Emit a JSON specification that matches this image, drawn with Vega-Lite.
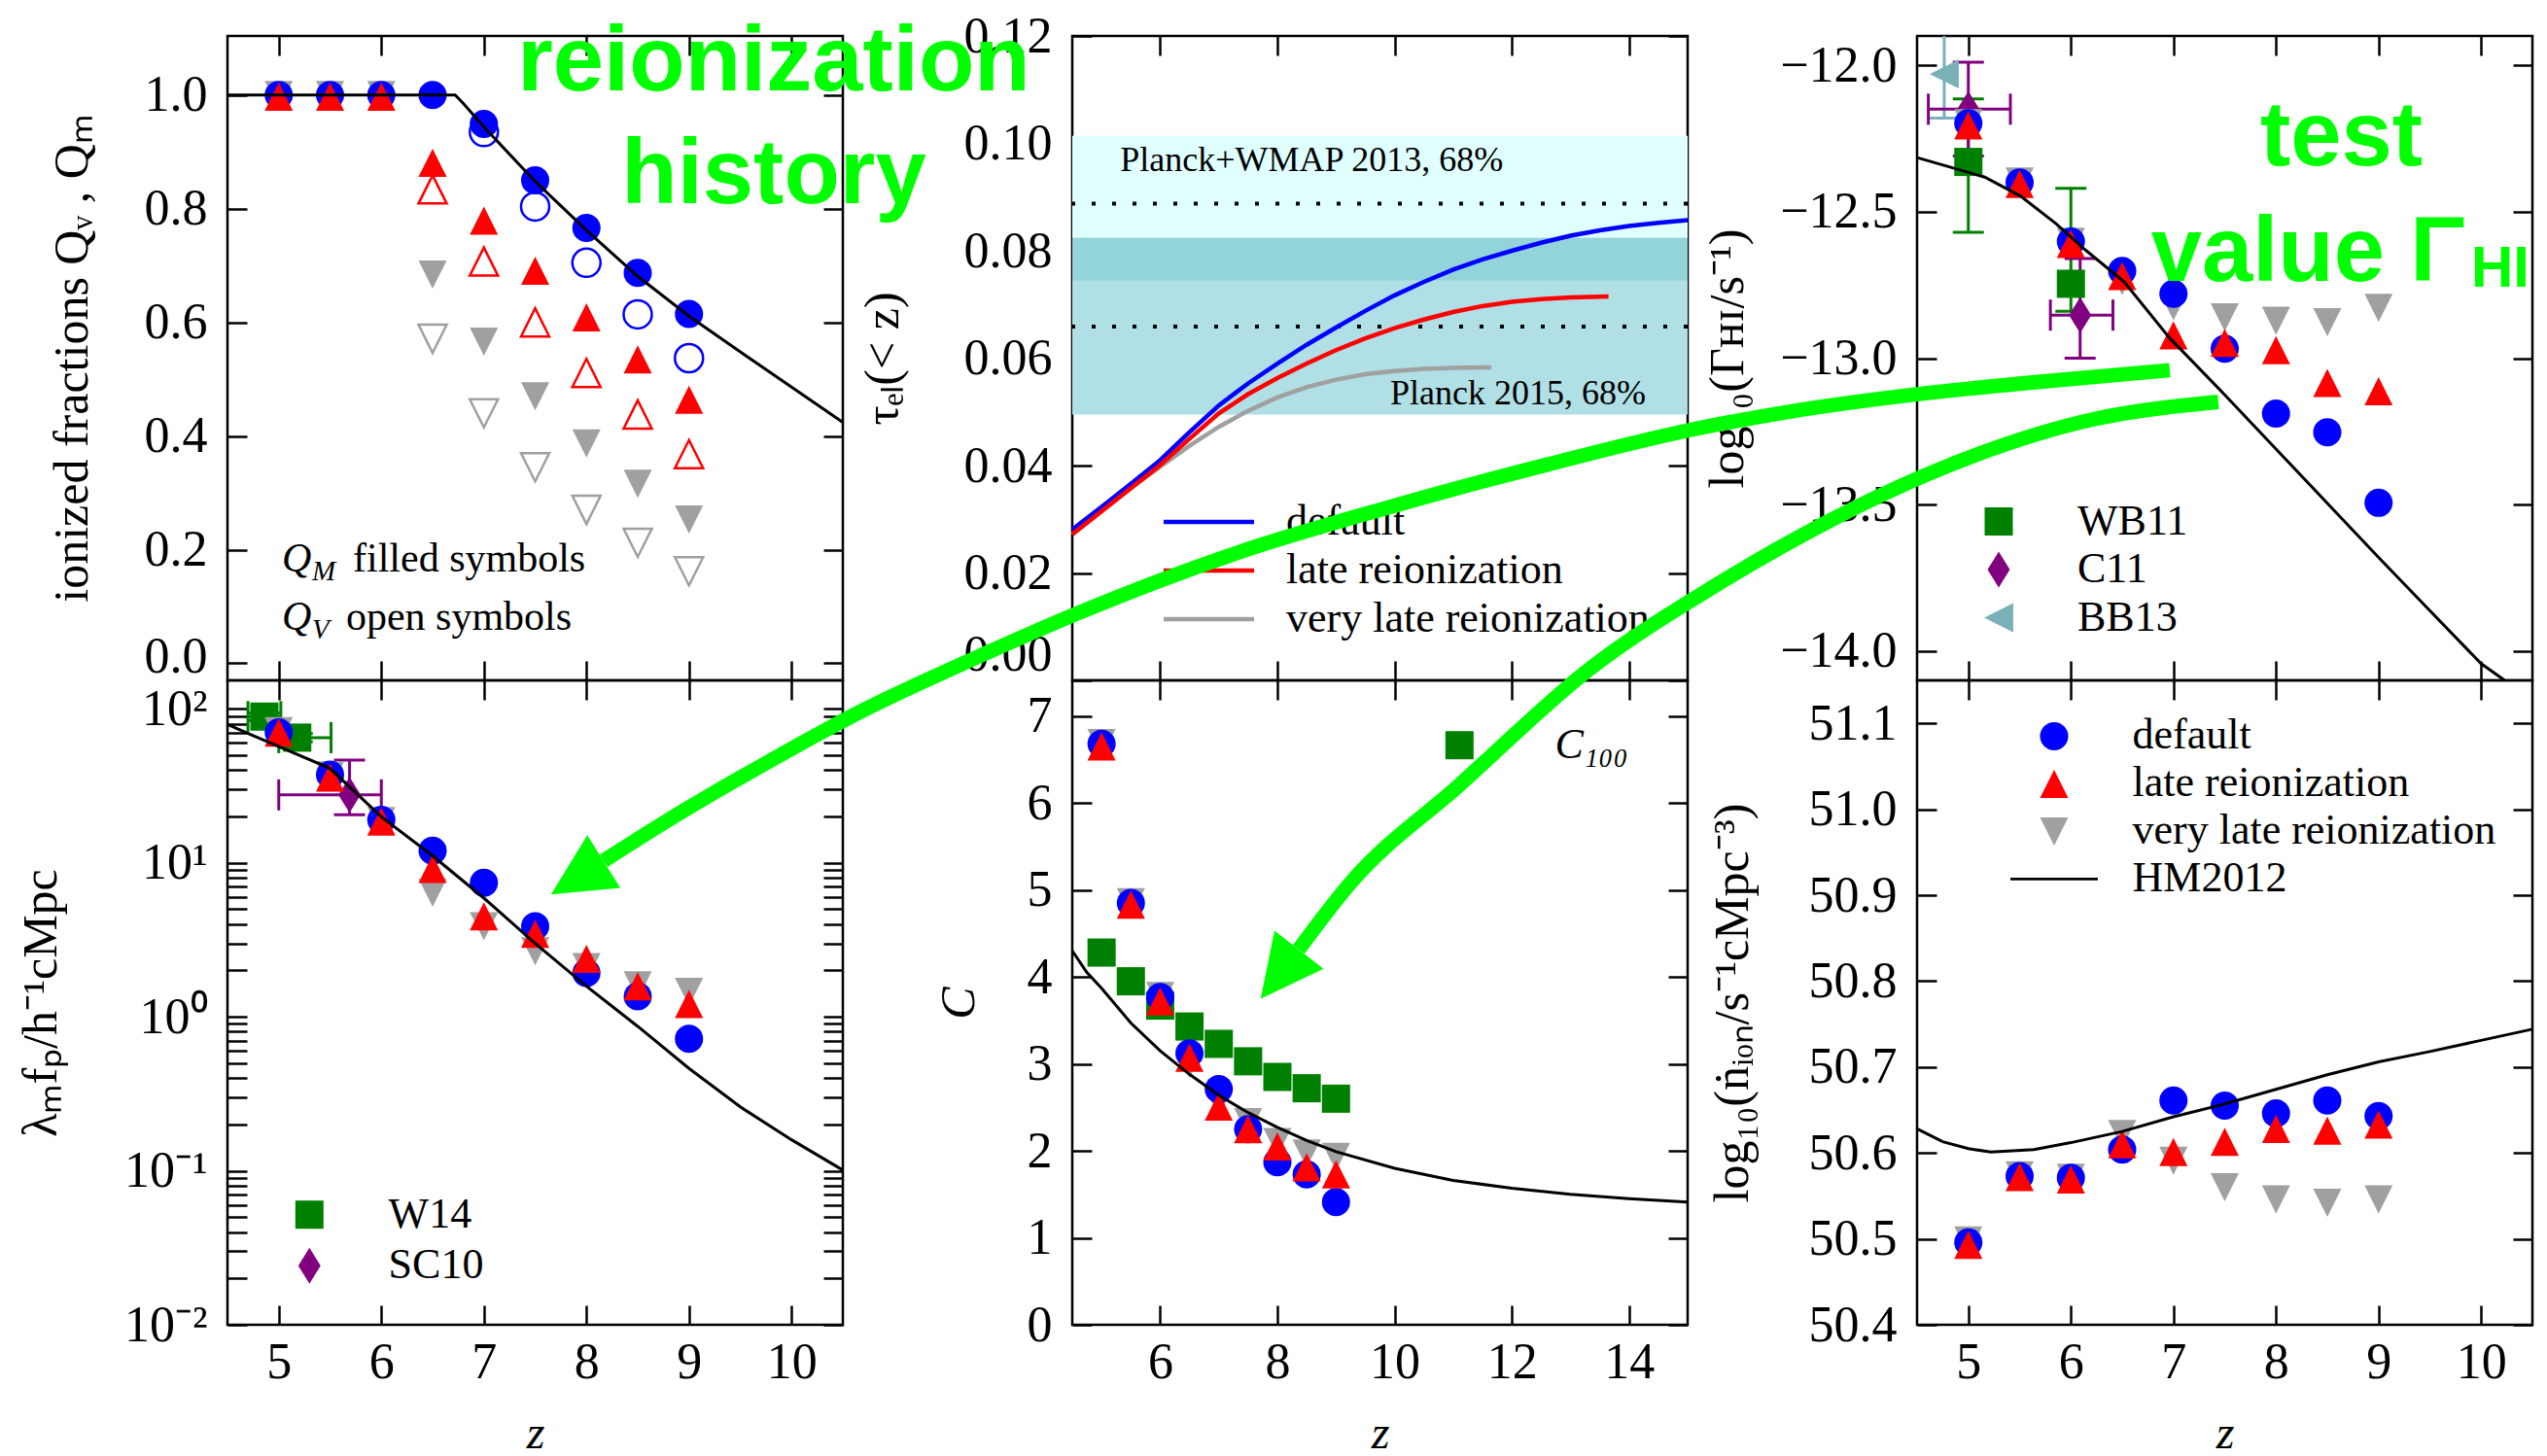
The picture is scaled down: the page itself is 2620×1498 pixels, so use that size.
{
"$schema": "https://vega.github.io/schema/vega-lite/v6.json",
"background": "white",
"padding": {"left": 16, "top": 9, "right": 5, "bottom": 0},
"columns": 3,
"spacing": {"row": 0, "column": 236},
"bounds": "flush",
"resolve": {"scale": {"color": "independent", "shape": "independent"}, "legend": {"color": "independent", "shape": "independent"}},
"config": {
  "view": {"stroke": "#000000", "strokeWidth": 2.5},
  "axis": {"domain": false, "grid": false, "ticks": true, "tickSize": -20, "tickWidth": 2.5, "tickColor": "#000000", "labelFont": "Liberation Serif", "labelFontSize": 52, "labelColor": "#000000", "labelPadding": 41, "labelFlush": false, "labelOverlap": false, "labelBound": false, "titleFont": "Liberation Serif", "titleFontSize": 50, "titleFontWeight": "normal", "titleColor": "#000000", "titlePadding": 30},
  "axisX": {"labelPadding": 33, "titlePadding": 24, "titleFontSize": 48},
  "axisY": {"titlePadding": 45},
  "legend": {"labelFont": "Liberation Serif", "labelFontSize": 44, "labelColor": "#000000", "labelLimit": 1000, "padding": 0}
},
"datasets": {
  "QM": [
    {"z":5,"Q":1.0,"model":"very late reionization"},{"z":5.5,"Q":1.0,"model":"very late reionization"},{"z":6,"Q":1.0,"model":"very late reionization"},{"z":6.5,"Q":0.684,"model":"very late reionization"},{"z":7,"Q":0.566,"model":"very late reionization"},{"z":7.5,"Q":0.470,"model":"very late reionization"},{"z":8,"Q":0.387,"model":"very late reionization"},{"z":8.5,"Q":0.316,"model":"very late reionization"},{"z":9,"Q":0.253,"model":"very late reionization"},
    {"z":5,"Q":1.0,"model":"default"},{"z":5.5,"Q":1.0,"model":"default"},{"z":6,"Q":1.0,"model":"default"},{"z":6.5,"Q":1.0,"model":"default"},{"z":7,"Q":0.949,"model":"default"},{"z":7.5,"Q":0.850,"model":"default"},{"z":8,"Q":0.766,"model":"default"},{"z":8.5,"Q":0.687,"model":"default"},{"z":9,"Q":0.615,"model":"default"},
    {"z":5,"Q":0.997,"model":"late reionization"},{"z":5.5,"Q":0.997,"model":"late reionization"},{"z":6,"Q":0.997,"model":"late reionization"},{"z":6.5,"Q":0.881,"model":"late reionization"},{"z":7,"Q":0.779,"model":"late reionization"},{"z":7.5,"Q":0.691,"model":"late reionization"},{"z":8,"Q":0.609,"model":"late reionization"},{"z":8.5,"Q":0.535,"model":"late reionization"},{"z":9,"Q":0.464,"model":"late reionization"}
  ],
  "QV": [
    {"z":6.5,"Q":0.571,"model":"very late reionization"},{"z":7,"Q":0.440,"model":"very late reionization"},{"z":7.5,"Q":0.345,"model":"very late reionization"},{"z":8,"Q":0.270,"model":"very late reionization"},{"z":8.5,"Q":0.212,"model":"very late reionization"},{"z":9,"Q":0.162,"model":"very late reionization"},
    {"z":7,"Q":0.935,"model":"default"},{"z":7.5,"Q":0.804,"model":"default"},{"z":8,"Q":0.705,"model":"default"},{"z":8.5,"Q":0.614,"model":"default"},{"z":9,"Q":0.537,"model":"default"},
    {"z":6.5,"Q":0.834,"model":"late reionization"},{"z":7,"Q":0.707,"model":"late reionization"},{"z":7.5,"Q":0.600,"model":"late reionization"},{"z":8,"Q":0.511,"model":"late reionization"},{"z":8.5,"Q":0.438,"model":"late reionization"},{"z":9,"Q":0.368,"model":"late reionization"}
  ],
  "Qline": [{"z":4.5,"Q":1.0},{"z":6.72,"Q":1.0},{"z":6.8,"Q":0.985},{"z":7,"Q":0.944},{"z":7.5,"Q":0.848},{"z":8,"Q":0.762},{"z":8.5,"Q":0.681},{"z":9,"Q":0.611},{"z":9.5,"Q":0.548},{"z":10,"Q":0.486},{"z":10.5,"Q":0.424}],
  "qtext_q": [{"z":5.031,"Q":0.161,"t":"Q"},{"z":5.031,"Q":0.059,"t":"Q"}],
  "qtext_sub": [{"z":5.325,"Q":0.161,"t":"M"},{"z":5.325,"Q":0.059,"t":"V"}],
  "qtext_rest": [{"z":5.723,"Q":0.161,"t":"filled symbols"},{"z":5.656,"Q":0.059,"t":"open symbols"}],
  "bands": [{"band":"Planck+WMAP 2013","lo":0.0745,"hi":0.1014},{"band":"Planck 2015","lo":0.0495,"hi":0.0824},{"band":"overlap","lo":0.0745,"hi":0.0824}],
  "tauref": [{"tau":0.0888},{"tau":0.0659}],
  "tau": [
    {"z":4.5,"tau":0.0272,"model":"very late reionization"},{"z":5,"tau":0.0315,"model":"very late reionization"},{"z":5.5,"tau":0.0358,"model":"very late reionization"},{"z":6,"tau":0.0398,"model":"very late reionization"},{"z":6.5,"tau":0.0437,"model":"very late reionization"},{"z":7,"tau":0.0472,"model":"very late reionization"},{"z":7.5,"tau":0.0502,"model":"very late reionization"},{"z":8,"tau":0.0527,"model":"very late reionization"},{"z":8.5,"tau":0.0546,"model":"very late reionization"},{"z":9,"tau":0.0560,"model":"very late reionization"},{"z":9.5,"tau":0.0570,"model":"very late reionization"},{"z":10,"tau":0.0576,"model":"very late reionization"},{"z":10.5,"tau":0.0580,"model":"very late reionization"},{"z":11,"tau":0.0582,"model":"very late reionization"},{"z":11.65,"tau":0.0583,"model":"very late reionization"},
    {"z":4.5,"tau":0.0281,"model":"default"},{"z":5,"tau":0.0323,"model":"default"},{"z":5.5,"tau":0.0366,"model":"default"},{"z":6,"tau":0.0410,"model":"default"},{"z":6.5,"tau":0.0462,"model":"default"},{"z":7,"tau":0.0512,"model":"default"},{"z":7.5,"tau":0.0553,"model":"default"},{"z":8,"tau":0.0590,"model":"default"},{"z":8.5,"tau":0.0625,"model":"default"},{"z":9,"tau":0.0657,"model":"default"},{"z":9.5,"tau":0.0688,"model":"default"},{"z":10,"tau":0.0717,"model":"default"},{"z":10.5,"tau":0.0742,"model":"default"},{"z":11,"tau":0.0765,"model":"default"},{"z":11.5,"tau":0.0784,"model":"default"},{"z":12,"tau":0.0800,"model":"default"},{"z":12.5,"tau":0.0815,"model":"default"},{"z":13,"tau":0.0828,"model":"default"},{"z":13.5,"tau":0.0838,"model":"default"},{"z":14,"tau":0.0846,"model":"default"},{"z":14.5,"tau":0.0852,"model":"default"},{"z":15,"tau":0.0857,"model":"default"},
    {"z":4.5,"tau":0.0272,"model":"late reionization"},{"z":5,"tau":0.0315,"model":"late reionization"},{"z":5.5,"tau":0.0358,"model":"late reionization"},{"z":6,"tau":0.0401,"model":"late reionization"},{"z":6.5,"tau":0.0450,"model":"late reionization"},{"z":7,"tau":0.0497,"model":"late reionization"},{"z":7.5,"tau":0.0533,"model":"late reionization"},{"z":8,"tau":0.0563,"model":"late reionization"},{"z":8.5,"tau":0.0590,"model":"late reionization"},{"z":9,"tau":0.0615,"model":"late reionization"},{"z":9.5,"tau":0.0637,"model":"late reionization"},{"z":10,"tau":0.0656,"model":"late reionization"},{"z":10.5,"tau":0.0672,"model":"late reionization"},{"z":11,"tau":0.0686,"model":"late reionization"},{"z":11.5,"tau":0.0697,"model":"late reionization"},{"z":12,"tau":0.0705,"model":"late reionization"},{"z":12.5,"tau":0.0710,"model":"late reionization"},{"z":13,"tau":0.0713,"model":"late reionization"},{"z":13.65,"tau":0.0715,"model":"late reionization"}
  ],
  "tau_text": [{"z":5.318,"tau":0.0948,"t":"Planck+WMAP 2013, 68%"},{"z":9.924,"tau":0.0514,"t":"Planck 2015, 68%"}],
  "gamma": [
    {"z":5,"g":-12.198,"model":"very late reionization"},{"z":5.5,"g":-12.397,"model":"very late reionization"},{"z":6,"g":-12.603,"model":"very late reionization"},{"z":6.5,"g":-12.737,"model":"very late reionization"},{"z":7,"g":-12.823,"model":"very late reionization"},{"z":7.5,"g":-12.861,"model":"very late reionization"},{"z":8,"g":-12.872,"model":"very late reionization"},{"z":8.5,"g":-12.877,"model":"very late reionization"},{"z":9,"g":-12.828,"model":"very late reionization"},
    {"z":5,"g":-12.198,"model":"default"},{"z":5.5,"g":-12.40,"model":"default"},{"z":6,"g":-12.602,"model":"default"},{"z":6.5,"g":-12.702,"model":"default"},{"z":7,"g":-12.78,"model":"default"},{"z":7.5,"g":-12.968,"model":"default"},{"z":8,"g":-13.189,"model":"default"},{"z":8.5,"g":-13.253,"model":"default"},{"z":9,"g":-13.494,"model":"default"},
    {"z":5,"g":-12.205,"model":"late reionization"},{"z":5.5,"g":-12.405,"model":"late reionization"},{"z":6,"g":-12.61,"model":"late reionization"},{"z":6.5,"g":-12.72,"model":"late reionization"},{"z":7,"g":-12.922,"model":"late reionization"},{"z":7.5,"g":-12.948,"model":"late reionization"},{"z":8,"g":-12.973,"model":"late reionization"},{"z":8.5,"g":-13.085,"model":"late reionization"},{"z":9,"g":-13.113,"model":"late reionization"}
  ],
  "gamma_obs": [
    {"src":"WB11","z":5.0,"g":-12.33,"lo":-12.57,"hi":-12.115,"zlo":null,"zhi":null},
    {"src":"WB11","z":6.0,"g":-12.746,"lo":-12.84,"hi":-12.42,"zlo":null,"zhi":null},
    {"src":"C11","z":5.0,"g":-12.15,"lo":-12.31,"hi":-11.99,"zlo":4.61,"zhi":5.41},
    {"src":"C11","z":6.09,"g":-12.853,"lo":-13.0,"hi":-12.66,"zlo":5.80,"zhi":6.41},
    {"src":"BB13","z":4.765,"g":-12.03,"lo":-12.18,"hi":-11.8,"zlo":null,"zhi":null}
  ],
  "hm_gamma": [{"z":4.5,"g":-12.315},{"z":5.16,"g":-12.382},{"z":5.51,"g":-12.447},{"z":5.855,"g":-12.541},{"z":6.14,"g":-12.63},{"z":6.52,"g":-12.74},{"z":6.96,"g":-12.93},{"z":7.5,"g":-13.125},{"z":8,"g":-13.31},{"z":8.5,"g":-13.495},{"z":9,"g":-13.68},{"z":9.5,"g":-13.862},{"z":10,"g":-14.043},{"z":10.23,"g":-14.1}],
  "lmfp": [
    {"z":5,"l":71.6,"model":"very late reionization"},{"z":5.5,"l":36.9,"model":"very late reionization"},{"z":6,"l":18.7,"model":"very late reionization"},{"z":6.5,"l":6.4,"model":"very late reionization"},{"z":7,"l":3.87,"model":"very late reionization"},{"z":7.5,"l":2.66,"model":"very late reionization"},{"z":8,"l":2.1,"model":"very late reionization"},{"z":8.5,"l":1.6,"model":"very late reionization"},{"z":9,"l":1.45,"model":"very late reionization"},
    {"z":5,"l":70.3,"model":"default"},{"z":5.5,"l":37.4,"model":"default"},{"z":6,"l":19.0,"model":"default"},{"z":6.5,"l":12.0,"model":"default"},{"z":7,"l":7.41,"model":"default"},{"z":7.5,"l":3.87,"model":"default"},{"z":8,"l":1.93,"model":"default"},{"z":8.5,"l":1.36,"model":"default"},{"z":9,"l":0.719,"model":"default"},
    {"z":5,"l":70.0,"model":"late reionization"},{"z":5.5,"l":35.8,"model":"late reionization"},{"z":6,"l":18.5,"model":"late reionization"},{"z":6.5,"l":9.14,"model":"late reionization"},{"z":7,"l":4.50,"model":"late reionization"},{"z":7.5,"l":3.46,"model":"late reionization"},{"z":8,"l":2.38,"model":"late reionization"},{"z":8.5,"l":1.58,"model":"late reionization"},{"z":9,"l":1.21,"model":"late reionization"}
  ],
  "lmfp_obs": [
    {"src":"W14","z":4.86,"l":89,"lo":84,"hi":94,"zlo":4.70,"zhi":5.02},
    {"src":"W14","z":5.18,"l":65,"lo":61,"hi":69,"zlo":5.0,"zhi":5.51},
    {"src":"SC10","z":5.69,"l":27.6,"lo":20.5,"hi":46.4,"zlo":5.0,"zhi":6.0}
  ],
  "hm_lmfp": [{"z":4.5,"l":79},{"z":5.5,"l":41},{"z":6,"l":19.9},{"z":6.5,"l":11.1},{"z":7,"l":5.9},{"z":7.5,"l":3.0},{"z":8,"l":1.58},{"z":8.5,"l":0.867},{"z":9,"l":0.462},{"z":9.5,"l":0.26},{"z":10,"l":0.159},{"z":10.5,"l":0.101}],
  "c100": [{"z":5,"C":4.28,"series":"C100"},{"z":5.5,"C":3.95,"series":"C100"},{"z":6,"C":3.67,"series":"C100"},{"z":6.5,"C":3.43,"series":"C100"},{"z":7,"C":3.23,"series":"C100"},{"z":7.5,"C":3.03,"series":"C100"},{"z":8,"C":2.85,"series":"C100"},{"z":8.5,"C":2.72,"series":"C100"},{"z":9,"C":2.60,"series":"C100"}],
  "clump": [
    {"z":5,"C":6.69,"model":"very late reionization"},{"z":5.5,"C":4.86,"model":"very late reionization"},{"z":6,"C":3.78,"model":"very late reionization"},{"z":6.5,"C":3.0,"model":"very late reionization"},{"z":7,"C":2.56,"model":"very late reionization"},{"z":7.5,"C":2.33,"model":"very late reionization"},{"z":8,"C":2.10,"model":"very late reionization"},{"z":8.5,"C":1.97,"model":"very late reionization"},{"z":9,"C":1.93,"model":"very late reionization"},
    {"z":5,"C":6.68,"model":"default"},{"z":5.5,"C":4.85,"model":"default"},{"z":6,"C":3.77,"model":"default"},{"z":6.5,"C":3.12,"model":"default"},{"z":7,"C":2.71,"model":"default"},{"z":7.5,"C":2.25,"model":"default"},{"z":8,"C":1.87,"model":"default"},{"z":8.5,"C":1.73,"model":"default"},{"z":9,"C":1.41,"model":"default"},
    {"z":5,"C":6.65,"model":"late reionization"},{"z":5.5,"C":4.83,"model":"late reionization"},{"z":6,"C":3.72,"model":"late reionization"},{"z":6.5,"C":3.07,"model":"late reionization"},{"z":7,"C":2.51,"model":"late reionization"},{"z":7.5,"C":2.25,"model":"late reionization"},{"z":8,"C":2.05,"model":"late reionization"},{"z":8.5,"C":1.81,"model":"late reionization"},{"z":9,"C":1.73,"model":"late reionization"}
  ],
  "hm_clump": [{"z":4.5,"C":4.30},{"z":4.75,"C":4.05},{"z":5,"C":3.87},{"z":5.5,"C":3.47},{"z":6,"C":3.15},{"z":6.5,"C":2.88},{"z":7,"C":2.64},{"z":7.5,"C":2.44},{"z":8,"C":2.27},{"z":8.5,"C":2.12},{"z":9,"C":1.99},{"z":10,"C":1.80},{"z":11,"C":1.66},{"z":12,"C":1.57},{"z":13,"C":1.50},{"z":14,"C":1.45},{"z":15,"C":1.41}],
  "nion": [
    {"z":5,"n":50.498,"model":"very late reionization"},{"z":5.5,"n":50.574,"model":"very late reionization"},{"z":6,"n":50.571,"model":"very late reionization"},{"z":6.5,"n":50.622,"model":"very late reionization"},{"z":7,"n":50.591,"model":"very late reionization"},{"z":7.5,"n":50.560,"model":"very late reionization"},{"z":8,"n":50.546,"model":"very late reionization"},{"z":8.5,"n":50.542,"model":"very late reionization"},{"z":9,"n":50.546,"model":"very late reionization"},
    {"z":5,"n":50.496,"model":"default"},{"z":5.5,"n":50.573,"model":"default"},{"z":6,"n":50.571,"model":"default"},{"z":6.5,"n":50.604,"model":"default"},{"z":7,"n":50.661,"model":"default"},{"z":7.5,"n":50.655,"model":"default"},{"z":8,"n":50.646,"model":"default"},{"z":8.5,"n":50.661,"model":"default"},{"z":9,"n":50.643,"model":"default"},
    {"z":5,"n":50.493,"model":"late reionization"},{"z":5.5,"n":50.572,"model":"late reionization"},{"z":6,"n":50.569,"model":"late reionization"},{"z":6.5,"n":50.61,"model":"late reionization"},{"z":7,"n":50.601,"model":"late reionization"},{"z":7.5,"n":50.613,"model":"late reionization"},{"z":8,"n":50.628,"model":"late reionization"},{"z":8.5,"n":50.626,"model":"late reionization"},{"z":9,"n":50.633,"model":"late reionization"}
  ],
  "hm_nion": [{"z":4.5,"n":50.628},{"z":4.75,"n":50.613},{"z":5,"n":50.605},{"z":5.22,"n":50.601},{"z":5.64,"n":50.604},{"z":6,"n":50.612},{"z":6.5,"n":50.625},{"z":7,"n":50.642},{"z":7.5,"n":50.657},{"z":8,"n":50.674},{"z":8.5,"n":50.691},{"z":9,"n":50.706},{"z":9.5,"n":50.718},{"z":10,"n":50.731},{"z":10.5,"n":50.744}],
  "arrows": [
    {"arrow":"upper","x":6.964,"y":51.511},{"arrow":"upper","x":5.647,"y":51.497},{"arrow":"upper","x":4.5,"y":51.483},{"arrow":"upper","x":3.268,"y":51.463},{"arrow":"upper","x":2.272,"y":51.441},{"arrow":"upper","x":0.889,"y":51.401},{"arrow":"upper","x":-0.694,"y":51.350},{"arrow":"upper","x":-2.116,"y":51.299},{"arrow":"upper","x":-3.728,"y":51.226},{"arrow":"upper","x":-4.647,"y":51.178},{"arrow":"upper","x":-5.813,"y":51.113},{"arrow":"upper","x":-6.704,"y":51.055},{"arrow":"upper","x":-7.709,"y":50.985},{"arrow":"upper","x":-8.306,"y":50.940},
    {"arrow":"lower","x":7.438,"y":51.474},{"arrow":"lower","x":6.225,"y":51.454},{"arrow":"lower","x":4.604,"y":51.390},{"arrow":"lower","x":3.571,"y":51.331},{"arrow":"lower","x":2.528,"y":51.260},{"arrow":"lower","x":1.315,"y":51.164},{"arrow":"lower","x":0.036,"y":51.028},{"arrow":"lower","x":-1.026,"y":50.914},{"arrow":"lower","x":-1.528,"y":50.837}
  ],
  "arrowheads": [{"arrow":"upper","x":-8.562,"y":50.920},{"arrow":"lower","x":-1.713,"y":50.808}],
  "annot_big": [{"t":"reionization","x":-6.647,"y":51.837},{"t":"history","x":-6.647,"y":51.705},{"t":"test","x":8.637,"y":51.749}],
  "annot_value": [{"t":"value Γ","x":9.843,"y":51.615}],
  "annot_sub": [{"t":"HI","x":9.903,"y":51.608}]
},
"concat": [
  {
    "width": 633, "height": 663,
    "resolve": {"scale": {"color": "independent", "shape": "independent"}},
    "layer": [
      {"data": {"name": "QV"}, "mark": {"type": "point", "filled": false, "opacity": 1, "size": 841, "strokeWidth": 2.5},
       "encoding": {
         "x": {"field": "z", "type": "quantitative", "scale": {"domain": [4.5, 10.5], "nice": false, "zero": false}, "axis": {"orient": "bottom", "values": [5,6,7,8,9,10], "labels": false, "title": null}},
         "y": {"field": "Q", "type": "quantitative", "scale": {"domain": [-0.03, 1.104], "nice": false, "zero": false}, "axis": {"orient": "left", "values": [0,0.2,0.4,0.6,0.8,1], "format": ".1f", "labelOffset": {"condition": {"test": "datum.value == 0", "value": -7}, "value": 0}, "title": "ionized fractions Qᵥ , Qₘ", "titlePadding": 49}},
         "color": {"field": "model", "type": "nominal", "scale": {"domain": ["default","late reionization","very late reionization"], "range": ["#0000ff","#ff0000","#a0a0a0"]}, "legend": null},
         "shape": {"field": "model", "type": "nominal", "scale": {"domain": ["default","late reionization","very late reionization"], "range": ["circle","M0,-1L-1,1L1,1Z","M0,1L-1,-1L1,-1Z"]}, "legend": null}
       }},
      {"data": {"name": "QM"}, "mark": {"type": "point", "filled": true, "opacity": 1, "size": 841, "strokeWidth": 0},
       "encoding": {
         "x": {"field": "z", "type": "quantitative", "scale": {"domain": [4.5, 10.5], "nice": false, "zero": false}, "axis": {"orient": "top", "values": [5,6,7,8,9,10], "labels": false, "title": null}},
         "y": {"field": "Q", "type": "quantitative", "scale": {"domain": [-0.03, 1.104], "nice": false, "zero": false}, "axis": {"orient": "right", "values": [0,0.2,0.4,0.6,0.8,1], "labels": false, "title": null}},
         "color": {"field": "model", "type": "nominal", "scale": {"domain": ["default","late reionization","very late reionization"], "range": ["#0000ff","#ff0000","#a0a0a0"]}, "legend": null},
         "shape": {"field": "model", "type": "nominal", "scale": {"domain": ["default","late reionization","very late reionization"], "range": ["circle","M0,-1L-1,1L1,1Z","M0,1L-1,-1L1,-1Z"]}, "legend": null}
       }},
      {"data": {"name": "Qline"}, "mark": {"type": "line", "color": "#000000", "strokeWidth": 3},
       "encoding": {
         "x": {"field": "z", "type": "quantitative", "scale": {"domain": [4.5, 10.5], "nice": false, "zero": false}, "axis": null},
         "y": {"field": "Q", "type": "quantitative", "scale": {"domain": [-0.03, 1.104], "nice": false, "zero": false}, "axis": null}
       }},
      {"data": {"name": "qtext_q"}, "mark": {"type": "text", "font": "Liberation Serif", "fontStyle": "italic", "fontSize": 42, "align": "left", "baseline": "alphabetic", "color": "#000000"},
       "encoding": {
         "x": {"field": "z", "type": "quantitative", "scale": {"domain": [4.5, 10.5], "nice": false, "zero": false}, "axis": null},
         "y": {"field": "Q", "type": "quantitative", "scale": {"domain": [-0.03, 1.104], "nice": false, "zero": false}, "axis": null},
         "text": {"field": "t", "type": "nominal"}
       }},
      {"data": {"name": "qtext_sub"}, "mark": {"type": "text", "font": "Liberation Serif", "fontStyle": "italic", "fontSize": 29, "dy": 9, "align": "left", "baseline": "alphabetic", "color": "#000000"},
       "encoding": {
         "x": {"field": "z", "type": "quantitative", "scale": {"domain": [4.5, 10.5], "nice": false, "zero": false}, "axis": null},
         "y": {"field": "Q", "type": "quantitative", "scale": {"domain": [-0.03, 1.104], "nice": false, "zero": false}, "axis": null},
         "text": {"field": "t", "type": "nominal"}
       }},
      {"data": {"name": "qtext_rest"}, "mark": {"type": "text", "font": "Liberation Serif", "fontSize": 42, "align": "left", "baseline": "alphabetic", "color": "#000000"},
       "encoding": {
         "x": {"field": "z", "type": "quantitative", "scale": {"domain": [4.5, 10.5], "nice": false, "zero": false}, "axis": null},
         "y": {"field": "Q", "type": "quantitative", "scale": {"domain": [-0.03, 1.104], "nice": false, "zero": false}, "axis": null},
         "text": {"field": "t", "type": "nominal"}
       }}
    ]
  },
  {
    "width": 633, "height": 663,
    "resolve": {"scale": {"color": "independent", "shape": "independent"}},
    "layer": [
      {"data": {"name": "bands"}, "mark": {"type": "rect", "opacity": 1},
       "encoding": {
         "y": {"field": "lo", "type": "quantitative", "scale": {"domain": [0, 0.12], "nice": false, "zero": false}, "axis": null},
         "y2": {"field": "hi"},
         "color": {"field": "band", "type": "nominal", "scale": {"domain": ["Planck+WMAP 2013","Planck 2015","overlap"], "range": ["#e0ffff","#b0dfe5","#93d3da"]}, "legend": null}
       }},
      {"data": {"name": "tauref"}, "mark": {"type": "rule", "color": "#000000", "strokeWidth": 4, "strokeDash": [4, 17]},
       "encoding": {
         "y": {"field": "tau", "type": "quantitative", "scale": {"domain": [0, 0.12], "nice": false, "zero": false}, "axis": null}
       }},
      {"data": {"name": "tau"}, "mark": {"type": "line", "strokeWidth": 4.5},
       "encoding": {
         "x": {"field": "z", "type": "quantitative", "scale": {"domain": [4.5, 15], "nice": false, "zero": false}, "axis": {"orient": "bottom", "values": [6,8,10,12,14], "labels": false, "title": null}},
         "y": {"field": "tau", "type": "quantitative", "scale": {"domain": [0, 0.12], "nice": false, "zero": false}, "axis": {"orient": "left", "values": [0,0.02,0.04,0.06,0.08,0.1,0.12], "format": ".2f", "labelBaseline": {"condition": {"test": "datum.value == 0", "value": "bottom"}, "value": "middle"}, "title": "τₑₗ(< z)", "titlePadding": 58}},
         "color": {"field": "model", "type": "nominal", "scale": {"domain": ["default","late reionization","very late reionization"], "range": ["#0000ff","#ff0000","#a0a0a0"]},
                   "legend": {"orient": "none", "legendX": 118.5, "legendY": 478, "title": null, "symbolType": "M-4.65,0H4.65", "symbolSize": 400, "symbolStrokeWidth": 4.5, "labelOffset": 57.5, "rowPadding": 6, "labelFontSize": 44, "labelFont": "Liberation Serif", "labelLimit": 1000, "padding": 0}}
       }},
      {"data": {"name": "tau_text"}, "mark": {"type": "text", "font": "Liberation Serif", "fontSize": 36, "align": "left", "baseline": "alphabetic", "color": "#000000"},
       "encoding": {
         "x": {"field": "z", "type": "quantitative", "scale": {"domain": [4.5, 15], "nice": false, "zero": false}, "axis": {"orient": "top", "values": [6,8,10,12,14], "labels": false, "title": null}},
         "y": {"field": "tau", "type": "quantitative", "scale": {"domain": [0, 0.12], "nice": false, "zero": false}, "axis": {"orient": "right", "values": [0,0.02,0.04,0.06,0.08,0.1,0.12], "labels": false, "title": null}},
         "text": {"field": "t", "type": "nominal"}
       }}
    ]
  },
  {
    "width": 633, "height": 663,
    "resolve": {"scale": {"color": "independent", "shape": "independent"}},
    "layer": [
      {"data": {"name": "gamma_obs"}, "mark": {"type": "rule", "strokeWidth": 3, "clip": true},
       "encoding": {
         "x": {"field": "z", "type": "quantitative", "scale": {"domain": [4.5, 10.5], "nice": false, "zero": false}, "axis": {"orient": "bottom", "values": [5,6,7,8,9,10], "labels": false, "title": null}},
         "y": {"field": "lo", "type": "quantitative", "scale": {"domain": [-14.1, -11.9], "nice": false, "zero": false}, "axis": {"orient": "left", "values": [-14,-13.5,-13,-12.5,-12], "format": ".1f", "title": "log₁₀(Γʜɪ/s⁻¹)", "titlePadding": 28}},
         "y2": {"field": "hi"},
         "color": {"field": "src", "type": "nominal", "scale": {"domain": ["WB11","C11","BB13"], "range": ["#008000","#800080","#79b1b7"]}, "legend": null}
       }},
      {"data": {"name": "gamma_obs"}, "transform": [{"filter": "isValid(datum.zlo)"}], "mark": {"type": "rule", "strokeWidth": 3, "clip": true},
       "encoding": {
         "x": {"field": "zlo", "type": "quantitative", "scale": {"domain": [4.5, 10.5], "nice": false, "zero": false}, "axis": null},
         "x2": {"field": "zhi"},
         "y": {"field": "g", "type": "quantitative", "scale": {"domain": [-14.1, -11.9], "nice": false, "zero": false}, "axis": null},
         "color": {"field": "src", "type": "nominal", "scale": {"domain": ["WB11","C11","BB13"], "range": ["#008000","#800080","#79b1b7"]}, "legend": null}
       }},
      {"data": {"name": "gamma_obs"}, "transform": [{"fold": ["lo","hi"], "as": ["which","v"]}], "mark": {"type": "tick", "orient": "horizontal", "size": 32, "thickness": 3, "opacity": 1, "clip": true},
       "encoding": {
         "x": {"field": "z", "type": "quantitative", "scale": {"domain": [4.5, 10.5], "nice": false, "zero": false}, "axis": null},
         "y": {"field": "v", "type": "quantitative", "scale": {"domain": [-14.1, -11.9], "nice": false, "zero": false}, "axis": null},
         "color": {"field": "src", "type": "nominal", "scale": {"domain": ["WB11","C11","BB13"], "range": ["#008000","#800080","#79b1b7"]}, "legend": null}
       }},
      {"data": {"name": "gamma_obs"}, "transform": [{"filter": "isValid(datum.zlo)"}, {"fold": ["zlo","zhi"], "as": ["which","v"]}], "mark": {"type": "tick", "orient": "vertical", "size": 32, "thickness": 3, "opacity": 1, "clip": true},
       "encoding": {
         "x": {"field": "v", "type": "quantitative", "scale": {"domain": [4.5, 10.5], "nice": false, "zero": false}, "axis": null},
         "y": {"field": "g", "type": "quantitative", "scale": {"domain": [-14.1, -11.9], "nice": false, "zero": false}, "axis": null},
         "color": {"field": "src", "type": "nominal", "scale": {"domain": ["WB11","C11","BB13"], "range": ["#008000","#800080","#79b1b7"]}, "legend": null}
       }},
      {"data": {"name": "gamma_obs"}, "mark": {"type": "point", "filled": true, "opacity": 1, "size": 841, "strokeWidth": 0},
       "encoding": {
         "x": {"field": "z", "type": "quantitative", "scale": {"domain": [4.5, 10.5], "nice": false, "zero": false}, "axis": null},
         "y": {"field": "g", "type": "quantitative", "scale": {"domain": [-14.1, -11.9], "nice": false, "zero": false}, "axis": null},
         "color": {"field": "src", "type": "nominal", "scale": {"domain": ["WB11","C11","BB13"], "range": ["#008000","#800080","#79b1b7"]},
                   "legend": {"orient": "none", "legendX": 62, "legendY": 477.5, "title": null, "symbolSize": 841, "symbolStrokeWidth": 0, "labelOffset": 59, "rowPadding": 5.5, "labelFontSize": 44, "labelFont": "Liberation Serif", "labelLimit": 1000, "padding": 0}},
         "shape": {"field": "src", "type": "nominal", "scale": {"domain": ["WB11","C11","BB13"], "range": ["square","M0,-1.276L0.79,0L0,1.276L-0.79,0Z","M-1.03,0L1.03,-1.03L1.03,1.03Z"]},
                   "legend": {"orient": "none", "legendX": 62, "legendY": 477.5, "title": null, "symbolSize": 841, "symbolStrokeWidth": 0, "labelOffset": 59, "rowPadding": 5.5, "labelFontSize": 44, "labelFont": "Liberation Serif", "labelLimit": 1000, "padding": 0}}
       }},
      {"data": {"name": "gamma"}, "mark": {"type": "point", "filled": true, "opacity": 1, "size": 841, "strokeWidth": 0},
       "encoding": {
         "x": {"field": "z", "type": "quantitative", "scale": {"domain": [4.5, 10.5], "nice": false, "zero": false}, "axis": {"orient": "top", "values": [5,6,7,8,9,10], "labels": false, "title": null}},
         "y": {"field": "g", "type": "quantitative", "scale": {"domain": [-14.1, -11.9], "nice": false, "zero": false}, "axis": {"orient": "right", "values": [-14,-13.5,-13,-12.5,-12], "labels": false, "title": null}},
         "color": {"field": "model", "type": "nominal", "scale": {"domain": ["default","late reionization","very late reionization"], "range": ["#0000ff","#ff0000","#a0a0a0"]}, "legend": null},
         "shape": {"field": "model", "type": "nominal", "scale": {"domain": ["default","late reionization","very late reionization"], "range": ["circle","M0,-1L-1,1L1,1Z","M0,1L-1,-1L1,-1Z"]}, "legend": null}
       }},
      {"data": {"name": "hm_gamma"}, "mark": {"type": "line", "color": "#000000", "strokeWidth": 3},
       "encoding": {
         "x": {"field": "z", "type": "quantitative", "scale": {"domain": [4.5, 10.5], "nice": false, "zero": false}, "axis": null},
         "y": {"field": "g", "type": "quantitative", "scale": {"domain": [-14.1, -11.9], "nice": false, "zero": false}, "axis": null}
       }}
    ]
  },
  {
    "width": 633, "height": 663,
    "resolve": {"scale": {"color": "independent", "shape": "independent"}},
    "layer": [
      {"data": {"name": "lmfp_obs"}, "mark": {"type": "rule", "strokeWidth": 3, "clip": true},
       "encoding": {
         "x": {"field": "z", "type": "quantitative", "scale": {"domain": [4.5, 10.5], "nice": false, "zero": false}, "axis": {"orient": "bottom", "values": [5,6,7,8,9,10], "format": "d", "title": "z", "titleFontStyle": "italic"}},
         "y": {"field": "lo", "type": "quantitative", "scale": {"type": "log", "domain": [0.01, 153], "nice": false}, "axis": {"orient": "left", "values": [0.01,0.02,0.03,0.04,0.05,0.06,0.07,0.08,0.09,0.1,0.2,0.3,0.4,0.5,0.6,0.7,0.8,0.9,1,2,3,4,5,6,7,8,9,10,20,30,40,50,60,70,80,90,100], "labelExpr": "datum.value == 100 ? '10²' : datum.value == 10 ? '10¹' : datum.value == 1 ? '10⁰' : datum.value == 0.1 ? '10⁻¹' : datum.value == 0.01 ? '10⁻²' : ''", "title": "λₘfₚ/h⁻¹cMpc", "titlePadding": 60}},
         "y2": {"field": "hi"},
         "color": {"field": "src", "type": "nominal", "scale": {"domain": ["W14","SC10"], "range": ["#008000","#800080"]}, "legend": null}
       }},
      {"data": {"name": "lmfp_obs"}, "transform": [{"filter": "isValid(datum.zlo)"}], "mark": {"type": "rule", "strokeWidth": 3, "clip": true},
       "encoding": {
         "x": {"field": "zlo", "type": "quantitative", "scale": {"domain": [4.5, 10.5], "nice": false, "zero": false}, "axis": null},
         "x2": {"field": "zhi"},
         "y": {"field": "l", "type": "quantitative", "scale": {"type": "log", "domain": [0.01, 153], "nice": false}, "axis": null},
         "color": {"field": "src", "type": "nominal", "scale": {"domain": ["W14","SC10"], "range": ["#008000","#800080"]}, "legend": null}
       }},
      {"data": {"name": "lmfp_obs"}, "transform": [{"fold": ["lo","hi"], "as": ["which","v"]}], "mark": {"type": "tick", "orient": "horizontal", "size": 32, "thickness": 3, "opacity": 1, "clip": true},
       "encoding": {
         "x": {"field": "z", "type": "quantitative", "scale": {"domain": [4.5, 10.5], "nice": false, "zero": false}, "axis": null},
         "y": {"field": "v", "type": "quantitative", "scale": {"type": "log", "domain": [0.01, 153], "nice": false}, "axis": null},
         "color": {"field": "src", "type": "nominal", "scale": {"domain": ["W14","SC10"], "range": ["#008000","#800080"]}, "legend": null}
       }},
      {"data": {"name": "lmfp_obs"}, "transform": [{"fold": ["zlo","zhi"], "as": ["which","v"]}], "mark": {"type": "tick", "orient": "vertical", "size": 32, "thickness": 3, "opacity": 1, "clip": true},
       "encoding": {
         "x": {"field": "v", "type": "quantitative", "scale": {"domain": [4.5, 10.5], "nice": false, "zero": false}, "axis": null},
         "y": {"field": "l", "type": "quantitative", "scale": {"type": "log", "domain": [0.01, 153], "nice": false}, "axis": null},
         "color": {"field": "src", "type": "nominal", "scale": {"domain": ["W14","SC10"], "range": ["#008000","#800080"]}, "legend": null}
       }},
      {"data": {"name": "lmfp_obs"}, "mark": {"type": "point", "filled": true, "opacity": 1, "size": 841, "strokeWidth": 0},
       "encoding": {
         "x": {"field": "z", "type": "quantitative", "scale": {"domain": [4.5, 10.5], "nice": false, "zero": false}, "axis": null},
         "y": {"field": "l", "type": "quantitative", "scale": {"type": "log", "domain": [0.01, 153], "nice": false}, "axis": null},
         "color": {"field": "src", "type": "nominal", "scale": {"domain": ["W14","SC10"], "range": ["#008000","#800080"]},
                   "legend": {"orient": "none", "legendX": 62.3, "legendY": 527.7, "title": null, "symbolSize": 841, "symbolStrokeWidth": 0, "labelOffset": 59.3, "rowPadding": 8.6, "labelFontSize": 44, "labelFont": "Liberation Serif", "labelLimit": 1000, "padding": 0}},
         "shape": {"field": "src", "type": "nominal", "scale": {"domain": ["W14","SC10"], "range": ["square","M0,-1.276L0.79,0L0,1.276L-0.79,0Z"]},
                   "legend": {"orient": "none", "legendX": 62.3, "legendY": 527.7, "title": null, "symbolSize": 841, "symbolStrokeWidth": 0, "labelOffset": 59.3, "rowPadding": 8.6, "labelFontSize": 44, "labelFont": "Liberation Serif", "labelLimit": 1000, "padding": 0}}
       }},
      {"data": {"name": "lmfp"}, "mark": {"type": "point", "filled": true, "opacity": 1, "size": 841, "strokeWidth": 0},
       "encoding": {
         "x": {"field": "z", "type": "quantitative", "scale": {"domain": [4.5, 10.5], "nice": false, "zero": false}, "axis": {"orient": "top", "values": [5,6,7,8,9,10], "labels": false, "title": null}},
         "y": {"field": "l", "type": "quantitative", "scale": {"type": "log", "domain": [0.01, 153], "nice": false}, "axis": {"orient": "right", "values": [0.01,0.02,0.03,0.04,0.05,0.06,0.07,0.08,0.09,0.1,0.2,0.3,0.4,0.5,0.6,0.7,0.8,0.9,1,2,3,4,5,6,7,8,9,10,20,30,40,50,60,70,80,90,100], "labels": false, "title": null}},
         "color": {"field": "model", "type": "nominal", "scale": {"domain": ["default","late reionization","very late reionization"], "range": ["#0000ff","#ff0000","#a0a0a0"]}, "legend": null},
         "shape": {"field": "model", "type": "nominal", "scale": {"domain": ["default","late reionization","very late reionization"], "range": ["circle","M0,-1L-1,1L1,1Z","M0,1L-1,-1L1,-1Z"]}, "legend": null}
       }},
      {"data": {"name": "hm_lmfp"}, "mark": {"type": "line", "color": "#000000", "strokeWidth": 3},
       "encoding": {
         "x": {"field": "z", "type": "quantitative", "scale": {"domain": [4.5, 10.5], "nice": false, "zero": false}, "axis": null},
         "y": {"field": "l", "type": "quantitative", "scale": {"type": "log", "domain": [0.01, 153], "nice": false}, "axis": null}
       }}
    ]
  },
  {
    "width": 633, "height": 663,
    "resolve": {"scale": {"color": "independent", "shape": "independent"}},
    "layer": [
      {"data": {"name": "c100"}, "mark": {"type": "point", "filled": true, "opacity": 1, "size": 841, "strokeWidth": 0},
       "encoding": {
         "x": {"field": "z", "type": "quantitative", "scale": {"domain": [4.5, 15], "nice": false, "zero": false}, "axis": {"orient": "bottom", "values": [6,8,10,12,14], "format": "d", "title": "z", "titleFontStyle": "italic"}},
         "y": {"field": "C", "type": "quantitative", "scale": {"domain": [0, 7.41], "nice": false, "zero": false}, "axis": {"orient": "left", "values": [0,1,2,3,4,5,6,7], "format": "d", "title": "C", "titleFontStyle": "italic"}},
         "color": {"field": "series", "type": "nominal", "scale": {"domain": ["C100"], "range": ["#008000"]},
                   "legend": {"orient": "none", "legendX": 376.3, "legendY": 44.7, "title": null, "symbolSize": 841, "symbolStrokeWidth": 0, "labelOffset": 76.2, "labelExpr": "'C₁₀₀'", "labelFontStyle": "italic", "labelFontSize": 44, "labelFont": "Liberation Serif", "labelLimit": 1000, "padding": 0}},
         "shape": {"field": "series", "type": "nominal", "scale": {"domain": ["C100"], "range": ["square"]},
                   "legend": {"orient": "none", "legendX": 376.3, "legendY": 44.7, "title": null, "symbolSize": 841, "symbolStrokeWidth": 0, "labelOffset": 76.2, "labelExpr": "'C₁₀₀'", "labelFontStyle": "italic", "labelFontSize": 44, "labelFont": "Liberation Serif", "labelLimit": 1000, "padding": 0}}
       }},
      {"data": {"name": "clump"}, "mark": {"type": "point", "filled": true, "opacity": 1, "size": 841, "strokeWidth": 0},
       "encoding": {
         "x": {"field": "z", "type": "quantitative", "scale": {"domain": [4.5, 15], "nice": false, "zero": false}, "axis": {"orient": "top", "values": [6,8,10,12,14], "labels": false, "title": null}},
         "y": {"field": "C", "type": "quantitative", "scale": {"domain": [0, 7.41], "nice": false, "zero": false}, "axis": {"orient": "right", "values": [0,1,2,3,4,5,6,7], "labels": false, "title": null}},
         "color": {"field": "model", "type": "nominal", "scale": {"domain": ["default","late reionization","very late reionization"], "range": ["#0000ff","#ff0000","#a0a0a0"]}, "legend": null},
         "shape": {"field": "model", "type": "nominal", "scale": {"domain": ["default","late reionization","very late reionization"], "range": ["circle","M0,-1L-1,1L1,1Z","M0,1L-1,-1L1,-1Z"]}, "legend": null}
       }},
      {"data": {"name": "hm_clump"}, "mark": {"type": "line", "color": "#000000", "strokeWidth": 3},
       "encoding": {
         "x": {"field": "z", "type": "quantitative", "scale": {"domain": [4.5, 15], "nice": false, "zero": false}, "axis": null},
         "y": {"field": "C", "type": "quantitative", "scale": {"domain": [0, 7.41], "nice": false, "zero": false}, "axis": null}
       }}
    ]
  },
  {
    "width": 633, "height": 663,
    "resolve": {"scale": {"color": "independent", "shape": "independent"}},
    "layer": [
      {"data": {"name": "nion"}, "mark": {"type": "point", "filled": true, "opacity": 1, "size": 841, "strokeWidth": 0},
       "encoding": {
         "x": {"field": "z", "type": "quantitative", "scale": {"domain": [4.5, 10.5], "nice": false, "zero": false}, "axis": {"orient": "bottom", "values": [5,6,7,8,9,10], "format": "d", "title": "z", "titleFontStyle": "italic"}},
         "y": {"field": "n", "type": "quantitative", "scale": {"domain": [50.4, 51.15], "nice": false, "zero": false}, "axis": {"orient": "left", "values": [50.4,50.5,50.6,50.7,50.8,50.9,51.0,51.1], "format": ".1f", "title": "log₁₀(ṅᵢₒₙ/s⁻¹cMpc⁻³)", "titlePadding": 53}},
         "color": {"field": "model", "type": "nominal", "scale": {"domain": ["default","late reionization","very late reionization","HM2012"], "range": ["#0000ff","#ff0000","#a0a0a0","#000000"]},
                   "legend": {"orient": "none", "legendX": 119, "legendY": 35.4, "title": null, "symbolSize": 841, "symbolStrokeWidth": 0, "labelOffset": 58.5, "rowPadding": 5, "labelFontSize": 44, "labelFont": "Liberation Serif", "labelLimit": 1000, "padding": 0}},
         "shape": {"field": "model", "type": "nominal", "scale": {"domain": ["default","late reionization","very late reionization","HM2012"], "range": ["circle","M0,-1L-1,1L1,1Z","M0,1L-1,-1L1,-1Z","M-3.1,-0.1H3.1V0.1H-3.1Z"]},
                   "legend": {"orient": "none", "legendX": 119, "legendY": 35.4, "title": null, "symbolSize": 841, "symbolStrokeWidth": 0, "labelOffset": 58.5, "rowPadding": 5, "labelFontSize": 44, "labelFont": "Liberation Serif", "labelLimit": 1000, "padding": 0}}
       }},
      {"data": {"name": "hm_nion"}, "mark": {"type": "line", "color": "#000000", "strokeWidth": 3},
       "encoding": {
         "x": {"field": "z", "type": "quantitative", "scale": {"domain": [4.5, 10.5], "nice": false, "zero": false}, "axis": {"orient": "top", "values": [5,6,7,8,9,10], "labels": false, "title": null}},
         "y": {"field": "n", "type": "quantitative", "scale": {"domain": [50.4, 51.15], "nice": false, "zero": false}, "axis": {"orient": "right", "values": [50.4,50.5,50.6,50.7,50.8,50.9,51.0,51.1], "labels": false, "title": null}}
       }},
      {"data": {"name": "arrows"}, "mark": {"type": "line", "color": "#00ff00", "strokeWidth": 15, "interpolate": "monotone", "strokeCap": "butt", "clip": false},
       "encoding": {
         "x": {"field": "x", "type": "quantitative", "scale": {"domain": [4.5, 10.5], "nice": false, "zero": false}, "axis": null},
         "y": {"field": "y", "type": "quantitative", "scale": {"domain": [50.4, 51.15], "nice": false, "zero": false}, "axis": null},
         "detail": {"field": "arrow", "type": "nominal"}
       }},
      {"data": {"name": "arrowheads"}, "transform": [{"filter": "datum.arrow == 'upper'"}], "mark": {"type": "point", "shape": "M0,-1L-1,1L1,1Z", "size": 4096, "filled": true, "opacity": 1, "color": "#00ff00", "strokeWidth": 0, "angle": 238, "clip": false},
       "encoding": {
         "x": {"field": "x", "type": "quantitative", "scale": {"domain": [4.5, 10.5], "nice": false, "zero": false}, "axis": null},
         "y": {"field": "y", "type": "quantitative", "scale": {"domain": [50.4, 51.15], "nice": false, "zero": false}, "axis": null}
       }},
      {"data": {"name": "arrowheads"}, "transform": [{"filter": "datum.arrow == 'lower'"}], "mark": {"type": "point", "shape": "M0,-1L-1,1L1,1Z", "size": 4096, "filled": true, "opacity": 1, "color": "#00ff00", "strokeWidth": 0, "angle": 218, "clip": false},
       "encoding": {
         "x": {"field": "x", "type": "quantitative", "scale": {"domain": [4.5, 10.5], "nice": false, "zero": false}, "axis": null},
         "y": {"field": "y", "type": "quantitative", "scale": {"domain": [50.4, 51.15], "nice": false, "zero": false}, "axis": null}
       }},
      {"data": {"name": "annot_big"}, "mark": {"type": "text", "font": "Liberation Sans", "fontWeight": "bold", "fontSize": 94, "color": "#00ff00", "align": "center", "baseline": "alphabetic", "clip": false},
       "encoding": {
         "x": {"field": "x", "type": "quantitative", "scale": {"domain": [4.5, 10.5], "nice": false, "zero": false}, "axis": null},
         "y": {"field": "y", "type": "quantitative", "scale": {"domain": [50.4, 51.15], "nice": false, "zero": false}, "axis": null},
         "text": {"field": "t", "type": "nominal"}
       }},
      {"data": {"name": "annot_value"}, "mark": {"type": "text", "font": "Liberation Sans", "fontWeight": "bold", "fontSize": 94, "color": "#00ff00", "align": "right", "baseline": "alphabetic", "clip": false},
       "encoding": {
         "x": {"field": "x", "type": "quantitative", "scale": {"domain": [4.5, 10.5], "nice": false, "zero": false}, "axis": null},
         "y": {"field": "y", "type": "quantitative", "scale": {"domain": [50.4, 51.15], "nice": false, "zero": false}, "axis": null},
         "text": {"field": "t", "type": "nominal"}
       }},
      {"data": {"name": "annot_sub"}, "mark": {"type": "text", "font": "Liberation Sans", "fontWeight": "bold", "fontSize": 60, "color": "#00ff00", "align": "left", "baseline": "alphabetic", "clip": false},
       "encoding": {
         "x": {"field": "x", "type": "quantitative", "scale": {"domain": [4.5, 10.5], "nice": false, "zero": false}, "axis": null},
         "y": {"field": "y", "type": "quantitative", "scale": {"domain": [50.4, 51.15], "nice": false, "zero": false}, "axis": null},
         "text": {"field": "t", "type": "nominal"}
       }}
    ]
  }
]
}
